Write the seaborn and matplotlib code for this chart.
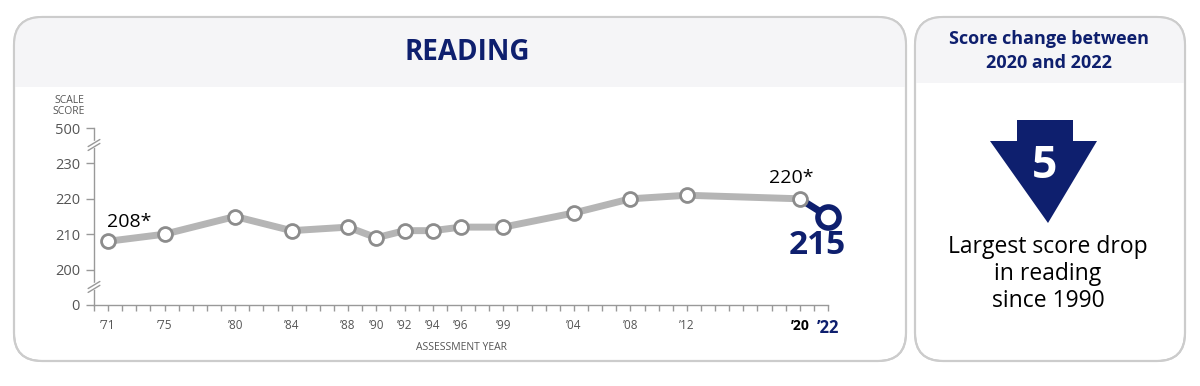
import matplotlib
matplotlib.use("Agg")
import matplotlib.pyplot as plt
import seaborn as sns
import pandas as pd
from matplotlib.patches import FancyBboxPatch, Rectangle, Polygon
from matplotlib.ticker import MultipleLocator

# --- data ---
years = [1971, 1975, 1980, 1984, 1988, 1990, 1992, 1994, 1996, 1999, 2004, 2008, 2012, 2020, 2022]
scores = [208, 210, 215, 211, 212, 209, 211, 211, 212, 212, 216, 220, 221, 220, 215]
year_labels = ["\u201971", "\u201975", "\u201980", "\u201984", "\u201988", "\u201990", "\u201992", "\u201994",
               "\u201996", "\u201999", "\u201904", "\u201908", "\u201912", "\u201920", "\u201922"]
ytick_pos = [190, 200, 210, 220, 230, 240]
ytick_labels = ["0", "200", "210", "220", "230", "500"]
score_change = 5

NAVY = "#0e1f6e"
GRAY_LINE = "#b5b5b5"
GRAY_TXT = "#555555"
HEADER = "#f5f5f7"
BORDER = "#cccccc"

sns.set_style("white")
plt.rcParams["font.family"] = ["Open Sans", "DejaVu Sans"]

df = pd.DataFrame({"year": years, "score": scores})
hist = df.iloc[:-1]
last = df.iloc[-2:]

fig = plt.figure(figsize=(12, 3.86), dpi=100)

# background canvas in pixel coordinates
bg = fig.add_axes([0, 0, 1, 1])
bg.set_xlim(0, 1200)
bg.set_ylim(386, 0)
bg.axis("off")


def panel(x0, y0, x1, y1, header_bottom):
    box = FancyBboxPatch((x0, y0), x1 - x0, y1 - y0,
                         boxstyle="round,pad=0,rounding_size=28",
                         facecolor="white", edgecolor=BORDER, linewidth=1.5, zorder=1)
    bg.add_patch(box)
    head = Rectangle((x0, y0), x1 - x0, header_bottom - y0, facecolor=HEADER,
                     edgecolor="none", zorder=1.5)
    bg.add_patch(head)
    head.set_clip_path(box)
    edge = FancyBboxPatch((x0, y0), x1 - x0, y1 - y0,
                          boxstyle="round,pad=0,rounding_size=28",
                          facecolor="none", edgecolor=BORDER, linewidth=1.5, zorder=2)
    bg.add_patch(edge)


panel(14, 17, 906, 361, 87)
panel(915, 17, 1185, 361, 83)

bg.text(467, 52, "READING", ha="center", va="center", fontsize=20, fontweight="bold",
        color=NAVY, zorder=3)
bg.text(1049, 51, "Score change between\n2020 and 2022", ha="center", va="center",
        fontsize=13, fontweight="bold", color=NAVY, linespacing=1.5, zorder=3)

# arrow
arrow = Polygon([(1017, 120), (1073, 120), (1073, 141), (1097, 141), (1048, 223),
                 (990, 141), (1017, 141)], closed=True, facecolor=NAVY, edgecolor="none", zorder=3)
bg.add_patch(arrow)
bg.text(1045, 166, str(score_change), ha="center", va="center", fontsize=32,
        fontweight="bold", color="white", zorder=4)
bg.text(1048, 274, "Largest score drop\nin reading\nsince 1990", ha="center", va="center",
        fontsize=16.5, color="black", linespacing=1.15, zorder=3)

# chart axes
ax = fig.add_axes([94 / 1200, (386 - 305) / 386, 734 / 1200, 177 / 386])
ax.patch.set_alpha(0)

sns.lineplot(data=hist, x="year", y="score", ax=ax, color=GRAY_LINE, linewidth=5, zorder=2)
sns.lineplot(data=last, x="year", y="score", ax=ax, color=NAVY, linewidth=5, zorder=2)
sns.scatterplot(data=hist, x="year", y="score", ax=ax, s=100, facecolor="white",
                edgecolor="#8c8c8c", linewidth=2, zorder=3)
ax.scatter(df["year"].iloc[-1], df["score"].iloc[-1], s=230, facecolor="white",
           edgecolor=NAVY, linewidth=4, zorder=4, clip_on=False)
for c in ax.collections + ax.lines:
    c.set_clip_on(False)

ax.set_xlim(1970, 2022)
ax.set_ylim(190, 240)
ax.set_xlabel("")
ax.set_ylabel("")

ax.set_yticks(ytick_pos)
ax.set_yticklabels(ytick_labels, fontsize=10.5, color=GRAY_TXT)
ax.set_xticks(years)
ax.set_xticklabels(year_labels, fontsize=8.5, color=GRAY_TXT)
ax.xaxis.set_minor_locator(MultipleLocator(1))
ax.tick_params(axis="y", which="major", direction="out", length=6, width=1, color="#999999", pad=4, left=True)
ax.tick_params(axis="x", which="both", direction="out", length=4, width=1, color="#999999", pad=6, bottom=True)

tl = ax.get_xticklabels()
tl[-2].set_color("black")
tl[-2].set_fontweight("bold")
tl[-2].set_fontsize(10)
tl[-1].set_color(NAVY)
tl[-1].set_fontweight("bold")
tl[-1].set_fontsize(12)

for s in ["top", "right"]:
    ax.spines[s].set_visible(False)
for s in ["left", "bottom"]:
    ax.spines[s].set_color("#999999")
    ax.spines[s].set_linewidth(1)

# axis break marks
for yb in [235.2, 195.1]:
    ax.plot([-0.02, 0.02], [yb - 0.6, yb + 0.9], transform=ax.get_yaxis_transform(),
            color="white", linewidth=5, clip_on=False, zorder=5)
    for off in [-0.55, 0.55]:
        ax.plot([-0.008, 0.008], [yb - 1.0 + off, yb + 1.0 + off], transform=ax.get_yaxis_transform(),
                color="#999999", linewidth=1, clip_on=False, zorder=6)

# value labels
ax.annotate(f"{scores[0]}*", (years[0], scores[0]), xytext=(15, 14), textcoords="offset points",
            ha="center", va="center", fontsize=14, color="black")
ax.annotate(f"{scores[-2]}*", (years[-2], scores[-2]), xytext=(-6, 15), textcoords="offset points",
            ha="center", va="center", fontsize=14, color="black")
ax.annotate(f"{scores[-1]}", (years[-1], scores[-1]), xytext=(-8, -21), textcoords="offset points",
            ha="center", va="center", fontsize=24, fontweight="bold", color=NAVY)

fig.text(69 / 1200, 1 - 106 / 386, "SCALE\nSCORE", ha="center", va="center", fontsize=7.5,
         color=GRAY_TXT, linespacing=1.1)
fig.text(462 / 1200, 1 - 347 / 386, "ASSESSMENT YEAR", ha="center", va="center", fontsize=7.5,
         color=GRAY_TXT)

fig.savefig("out.png", dpi=100)
